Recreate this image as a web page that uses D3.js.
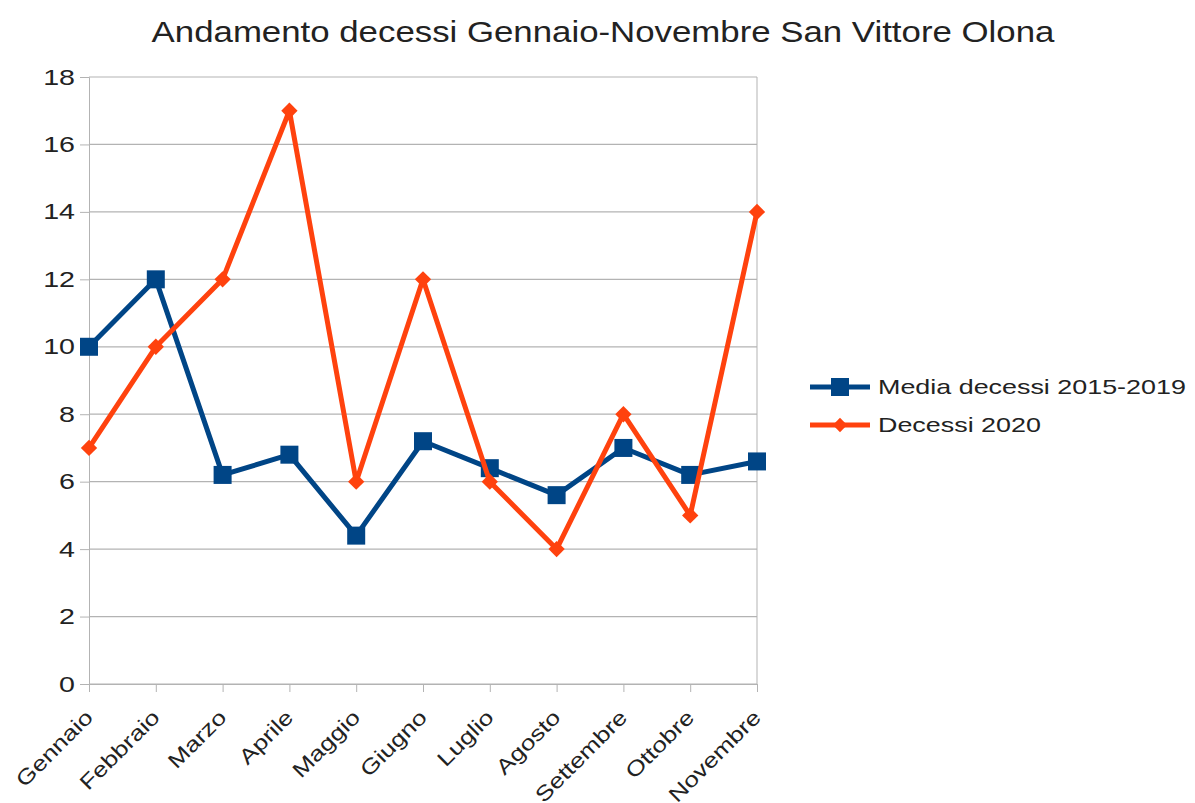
<!DOCTYPE html>
<html>
<head>
<meta charset="utf-8">
<script src="https://cdn.jsdelivr.net/npm/d3@7"></script>
<style>
  body { margin: 0; background: #fff; }
  text { font-family: "Liberation Sans", Arial, sans-serif; fill: #222; }
</style>
</head>
<body>
<svg id="chart" width="1195" height="803"></svg>
<script>
const months = ['Gennaio', 'Febbraio', 'Marzo', 'Aprile', 'Maggio', 'Giugno',
                'Luglio', 'Agosto', 'Settembre', 'Ottobre', 'Novembre'];
const media = [10, 12, 6.2, 6.8, 4.4, 7.2, 6.4, 5.6, 7.0, 6.2, 6.6];
const decessi2020 = [7, 10, 12, 17, 6, 12, 6, 4, 8, 5, 14];
const yTicks = [0, 2, 4, 6, 8, 10, 12, 14, 16, 18];
const seriesNames = ['Media decessi 2015-2019', 'Decessi 2020'];

const blue = '#004586', orange = '#ff420e';

const svg = d3.select('#chart');
const plot = { left: 89, right: 757, top: 77, bottom: 684 };

const x = d3.scalePoint().domain(months).range([plot.left, plot.right]);
const y = d3.scaleLinear().domain([0, 18]).range([plot.bottom, plot.top]);

// text in the picture is set wider than the plain font
function widen(sel, f) {
  sel.each(function() {
    const w = this.getComputedTextLength();
    d3.select(this).attr('textLength', w * f).attr('lengthAdjust', 'spacingAndGlyphs');
  });
}

// title
svg.append('text')
   .attr('x', 603).attr('y', 42)
   .attr('text-anchor', 'middle')
   .attr('font-size', '29px')
   .text('Andamento decessi Gennaio-Novembre San Vittore Olona')
   .call(widen, 1.2);

// grid + y axis
const yAxis = svg.append('g')
   .attr('transform', `translate(${plot.left},0)`)
   .call(d3.axisLeft(y).tickValues(yTicks).tickSize(9).tickPadding(5));
yAxis.select('.domain').attr('stroke', '#b3b3b3');
yAxis.selectAll('.tick line').attr('stroke', '#b3b3b3');
yAxis.selectAll('.tick text').attr('font-size', '22px').attr('fill', '#222')
   .call(widen, 1.3);

svg.append('g').selectAll('line')
   .data(yTicks)
   .enter().append('line')
   .attr('x1', plot.left).attr('x2', plot.right)
   .attr('y1', d => y(d)).attr('y2', d => y(d))
   .attr('stroke', '#b3b3b3').attr('stroke-width', 1.2);

svg.append('line')
   .attr('x1', plot.right).attr('x2', plot.right)
   .attr('y1', plot.top).attr('y2', plot.bottom)
   .attr('stroke', '#b3b3b3');

// x axis
const xAxis = svg.append('g')
   .attr('transform', `translate(0,${plot.bottom})`)
   .call(d3.axisBottom(x).tickSize(8).tickPadding(4));
xAxis.select('.domain').attr('stroke', '#b3b3b3');
xAxis.selectAll('.tick line').attr('stroke', '#b3b3b3');
xAxis.selectAll('.tick text')
   .attr('font-size', '21px')
   .attr('fill', '#222')
   .attr('text-anchor', 'end')
   .attr('dy', '0.35em')
   .attr('transform', 'translate(-9,21) rotate(-45)')
   .call(widen, 1.24);

const line = d3.line()
   .x((d, i) => x(months[i]))
   .y(d => y(d));

// media series
svg.append('path').datum(media)
   .attr('d', line)
   .attr('fill', 'none')
   .attr('stroke', blue)
   .attr('stroke-width', 5)
   .attr('stroke-linejoin', 'round');
svg.append('g').selectAll('rect')
   .data(media)
   .enter().append('rect')
   .attr('x', (d, i) => x(months[i]) - 9)
   .attr('y', d => y(d) - 9)
   .attr('width', 18).attr('height', 18)
   .attr('fill', blue);

// 2020 series
svg.append('path').datum(decessi2020)
   .attr('d', line)
   .attr('fill', 'none')
   .attr('stroke', orange)
   .attr('stroke-width', 5)
   .attr('stroke-linejoin', 'round');
const diamond = d3.symbol().type(d3.symbolDiamond2).size(170);
svg.append('g').selectAll('path')
   .data(decessi2020)
   .enter().append('path')
   .attr('d', diamond)
   .attr('transform', (d, i) => `translate(${x(months[i])},${y(d)})`)
   .attr('fill', orange);

// legend
const legend = svg.append('g').attr('transform', 'translate(810,0)');
[[blue, 'square'], [orange, 'diamond']].forEach(([col, shape], i) => {
  const ly = 387 + i * 38;
  legend.append('line')
     .attr('x1', 0).attr('x2', 60)
     .attr('y1', ly).attr('y2', ly)
     .attr('stroke', col).attr('stroke-width', 5);
  if (shape === 'square') {
    legend.append('rect')
       .attr('x', 21).attr('y', ly - 9)
       .attr('width', 18).attr('height', 18)
       .attr('fill', col);
  } else {
    legend.append('path')
       .attr('d', d3.symbol().type(d3.symbolDiamond2).size(130))
       .attr('transform', `translate(30,${ly})`)
       .attr('fill', col);
  }
  legend.append('text')
     .attr('x', 68).attr('y', ly)
     .attr('dy', '0.35em')
     .attr('font-size', '21px')
     .text(seriesNames[i])
     .call(widen, 1.28);
});
</script>
</body>
</html>
